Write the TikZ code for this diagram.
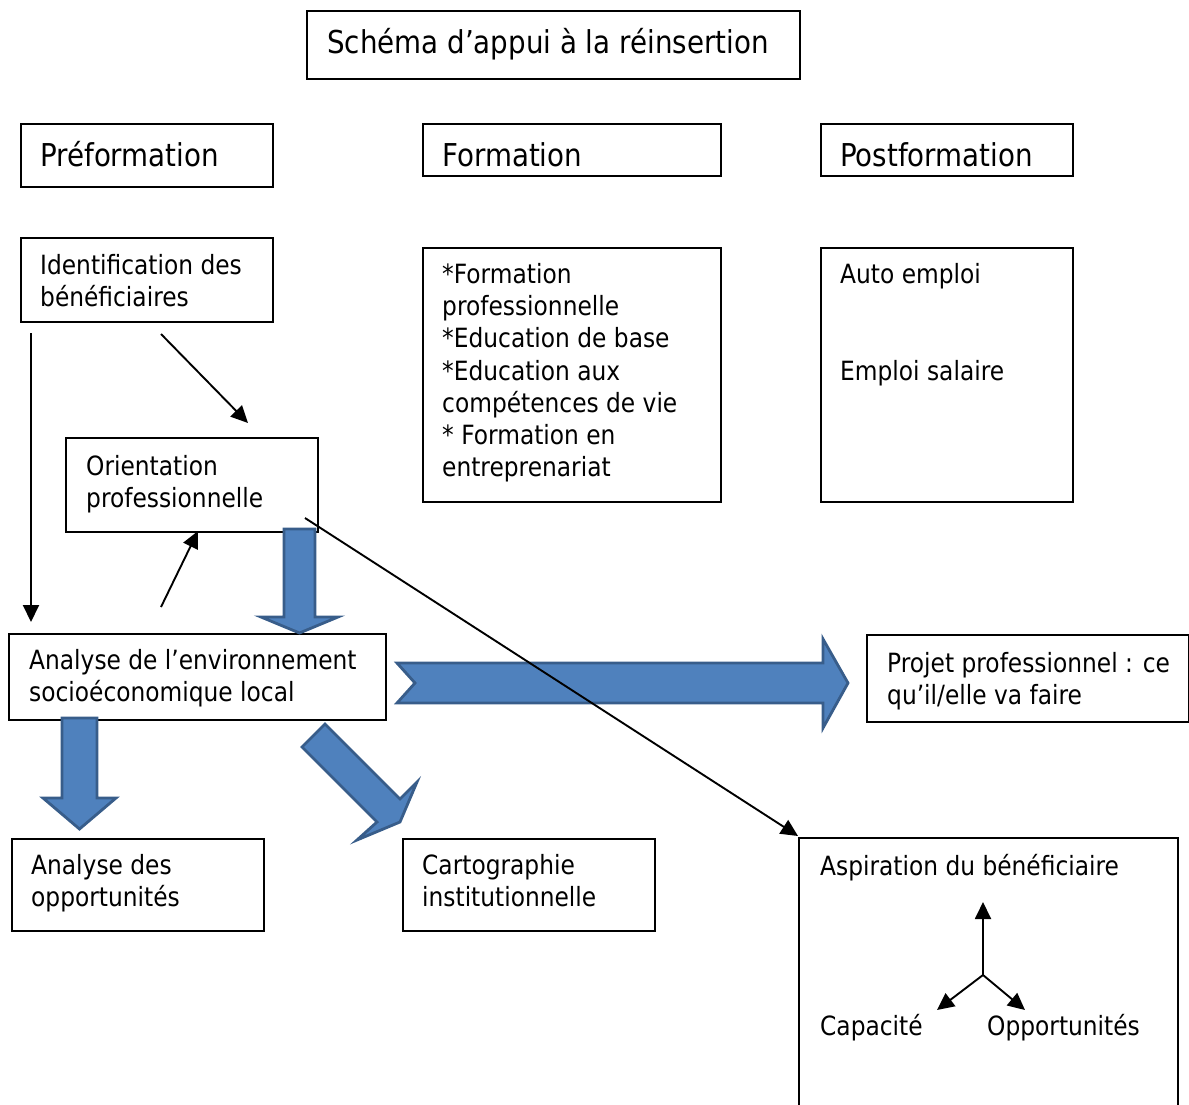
\documentclass[tikz,border=0pt]{standalone}
\usepackage{fontspec}
\setmainfont{DejaVu Sans}[FakeStretch=0.88]
\usetikzlibrary{arrows.meta}
\definecolor{arrowblue}{HTML}{4F81BD}
\definecolor{arrowedge}{HTML}{385D8A}
\tikzset{
  boxn/.style={draw, line width=1.9pt, inner sep=0pt, anchor=north west},
  ttl/.style={anchor=base west, inner sep=0pt, font=\fontsize{31.5}{38}\selectfont},
  bod/.style={anchor=base west, inner sep=0pt, font=\fontsize{26.5}{32}\selectfont},
  thinarrow/.style={line width=1.9pt, -{Triangle[length=17pt,width=16pt]}},
  blk/.style={fill=arrowblue, draw=arrowedge, line width=2.8pt, line join=miter},
}
\begin{document}
\begin{tikzpicture}[x=1pt,y=-1pt]
\useasboundingbox (0,0) rectangle (1189,1104);
% boxes
\node[boxn, minimum width=493pt, minimum height=68pt] (title) at (306,10) {};
\node[boxn, minimum width=252pt, minimum height=63pt] (pre) at (20,123) {};
\node[boxn, minimum width=298pt, minimum height=52pt] (form) at (422,123) {};
\node[boxn, minimum width=252pt, minimum height=52pt] (post) at (820,123) {};
\node[boxn, minimum width=252pt, minimum height=84pt] (ident) at (20,237) {};
\node[boxn, minimum width=298pt, minimum height=254pt] (flist) at (422,247) {};
\node[boxn, minimum width=252pt, minimum height=254pt] (plist) at (820,247) {};
\node[boxn, minimum width=252pt, minimum height=94pt] (orient) at (65,437) {};
\node[boxn, minimum width=377pt, minimum height=86pt] (envir) at (8,633) {};
\node[boxn, minimum width=322pt, minimum height=87pt] (projet) at (866,634) {};
\node[boxn, minimum width=252pt, minimum height=92pt] (opport) at (11,838) {};
\node[boxn, minimum width=252pt, minimum height=92pt] (carto) at (402,838) {};
\node[boxn, minimum width=379pt, minimum height=300pt] (aspir) at (798,837) {};
% texts
\node[ttl] (tTitle) at (327,53) {Schéma d’appui à la réinsertion};
\node[ttl] (tPre) at (40,166) {Préformation};
\node[ttl] (tForm) at (442,166) {Formation};
\node[ttl] (tPost) at (840,166) {Postformation};
\node[bod] (tId1) at (40,274) {Identification des};
\node[bod] (tId2) at (40,306) {bénéficiaires};
\node[bod] (tF1) at (442,283) {*Formation};
\node[bod] (tF2) at (442,315) {professionnelle};
\node[bod] (tF3) at (442,347) {*Education de base};
\node[bod] (tF4) at (442,380) {*Education aux};
\node[bod] (tF5) at (442,412) {compétences de vie};
\node[bod] (tF6) at (442,444) {* Formation en};
\node[bod] (tF7) at (442,476) {entreprenariat};
\node[bod] (tP1) at (840,283) {Auto emploi};
\node[bod] (tP2) at (840,380) {Emploi salaire};
\node[bod] (tO1) at (86,475) {Orientation};
\node[bod] (tO2) at (86,507) {professionnelle};
\node[bod] (tE1) at (29,669) {Analyse de l’environnement};
\node[bod] (tE2) at (29,701) {socioéconomique local};
\node[bod] (tPr1) at (887,672) {Projet professionnel : ce};
\node[bod] (tPr2) at (887,704) {qu’il/elle va faire};
\node[bod] (tA1) at (31,874) {Analyse des};
\node[bod] (tA2) at (31,906) {opportunités};
\node[bod] (tC1) at (422,874) {Cartographie};
\node[bod] (tC2) at (422,906) {institutionnelle};
\node[bod] (tAs) at (820,875) {Aspiration du bénéficiaire};
\node[bod] (tCap) at (820,1035) {Capacité};
\node[bod] (tOpp) at (987,1035) {Opportunités};
% block arrows
\draw[blk] (284,529) -- (315,529) -- (315,617) -- (338,617) -- (299.5,633) -- (261,617) -- (284,617) -- cycle;
\draw[blk] (62,718) -- (97,718) -- (97,798) -- (116,798) -- (79.5,829) -- (43,798) -- (62,798) -- cycle;
\draw[blk] (325,724) -- (400,799) -- (417,782) -- (400,822) -- (357,840) -- (377,822) -- (302,747) -- cycle;
\draw[blk] (397,663) -- (823,663) -- (823,639) -- (848,683) -- (823,728) -- (823,703) -- (397,703) -- (415,683) -- cycle;
% connector end points
\coordinate (idA) at (31,333);
\coordinate (envA) at (31,622);
\coordinate (idB) at (161,334);
\coordinate (orB) at (248,423);
\coordinate (envC) at (161,607);
\coordinate (orC) at (198,531);
\coordinate (orD) at (305,518);
\coordinate (asD) at (798,836);
\coordinate (ctr) at (983,975);
\coordinate (up) at (983,902);
\coordinate (lf) at (937,1010);
\coordinate (rt) at (1025,1010);
% thin arrows
\draw[thinarrow] (idA) -- (envA);
\draw[thinarrow] (idB) -- (orB);
\draw[thinarrow] (envC) -- (orC);
\draw[thinarrow] (orD) -- (asD);
\draw[thinarrow] (ctr) -- (up);
\draw[thinarrow] (ctr) -- (lf);
\draw[thinarrow] (ctr) -- (rt);
\end{tikzpicture}
\end{document}
